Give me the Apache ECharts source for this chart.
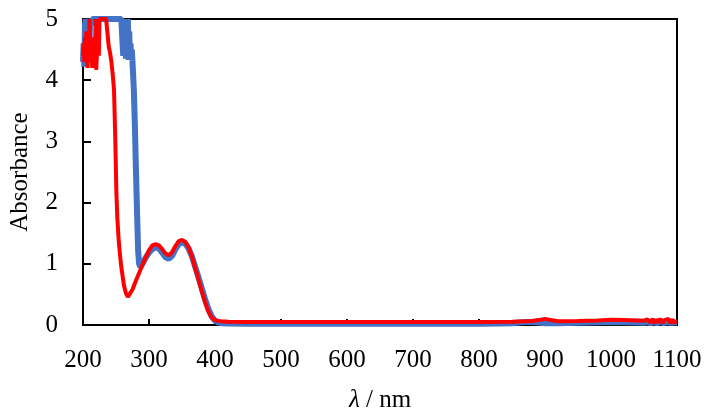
<!DOCTYPE html>
<html><head><meta charset="utf-8">
<script src="https://cdn.jsdelivr.net/npm/echarts@6/dist/echarts.min.js"></script>
<style>html,body{margin:0;padding:0;background:#fff}#c{width:707px;height:420px}</style>
</head><body><div id="c"></div>
<script>
// Blue spectrum
const wlBlue = [200,201,202,203,204,205,206,207,208,209,210,211,212,213,214,216,218,220,230,240,250,258,260,261,262,263,264,265,266,267,268,269,270,271,272,273,274,275,276,277,278.5,281,283.5,285,287,290,295,300,305,310,315,320,325,330,335,340,345,350,355,360,365,370,375,380,385,390,395,400,405,410,420,450,500,550,600,650,700,750,800,830,850,860,870,880,890,900,920,950,980,1000,1020,1040,1050,1055,1060,1065,1070,1075,1080,1085,1090,1095,1100];
const absBlue = [4.3,4.6,4.22,4.9,5,4.5,5,4.8,5,5,4.7,5,5,4.9,5,5,5,5,5,5,5,5,5,4.4,5,4.5,5,4.35,4.9,4.4,5,4.33,4.8,4.4,4.6,4.33,4.5,4.3,4.3,3.85,3.3,2.2,1.22,1.0,0.95,1.0,1.1,1.18,1.24,1.27,1.25,1.18,1.11,1.08,1.13,1.24,1.32,1.35,1.33,1.25,1.12,0.95,0.78,0.6,0.42,0.26,0.14,0.07,0.04,0.03,0.025,0.02,0.02,0.02,0.02,0.02,0.02,0.02,0.02,0.025,0.03,0.04,0.05,0.05,0.04,0.03,0.03,0.035,0.045,0.05,0.045,0.04,0.035,0.05,0.03,0.05,0.03,0.055,0.03,0.05,0.035,0.04,0.04];
// Red spectrum
const wlRed = [200,201,202,203,204,205,206,207,208,209,210,211,212,213,214,215,216,217,218,219,220,221,222,223,224,225,230,235,238,239,240,241,243,245,247,249,250.5,252,254,256,258,260,262,265,268,270,275,280,285,290,295,300,305,310,315,320,325,330,335,340,345,350,355,360,365,370,375,380,385,390,395,400,405,410,420,450,500,550,600,650,700,750,800,850,870,880,890,900,910,920,950,980,1000,1020,1040,1050,1055,1060,1063,1066,1069,1072,1075,1078,1081,1084,1087,1090,1093,1096,1100];
const absRed = [4.4,4.6,4.3,4.7,4.4,4.8,4.5,4.2,4.6,4.4,5,4.6,4.3,4.5,4.2,4.7,4.5,4.6,4.3,5,4.17,4.4,4.8,4.5,4.4,5,5,5,5,4.55,4.5,4.45,4.3,4.1,3.84,3.0,2.2,1.75,1.4,1.15,0.95,0.8,0.65,0.52,0.46,0.48,0.58,0.72,0.85,0.98,1.1,1.22,1.3,1.32,1.3,1.24,1.17,1.14,1.19,1.29,1.37,1.39,1.36,1.27,1.12,0.93,0.74,0.55,0.37,0.22,0.12,0.08,0.065,0.06,0.055,0.05,0.05,0.05,0.05,0.05,0.05,0.05,0.05,0.055,0.06,0.065,0.08,0.1,0.08,0.06,0.065,0.075,0.085,0.08,0.075,0.07,0.09,0.04,0.1,0.03,0.09,0.05,0.1,0.03,0.08,0.05,0.1,0.03,0.09,0.04,0.06];
const xTicks = {min:200, max:1100, interval:100};
const yTicks = {min:0, max:5, interval:1};

const pairs = (xs, ys) => xs.map((x,i)=>[x, ys[i]]);
const FONT = 'Liberation Serif';
const FS = 25;
const chart = echarts.init(document.getElementById('c'), null, {renderer:'canvas'});
chart.setOption({
  animation:false,
  backgroundColor:'#fff',
  grid:{left:77, right:30, top:19, bottom:95, show:true, borderColor:'#000', borderWidth:2, backgroundColor:'transparent'},
  xAxis:{type:'value', min:xTicks.min, max:xTicks.max, interval:xTicks.interval,
    axisLine:{show:true, onZero:false, lineStyle:{color:'#000', width:2}},
    axisTick:{show:true, inside:true, length:6, lineStyle:{color:'#000', width:2}},
    splitLine:{show:false},
    axisLabel:{color:'#000', fontFamily:FONT, fontSize:FS, margin:23, formatter:(v)=>String(v)},
    name:'{i|λ} / nm', nameLocation:'middle', nameGap:63,
    nameTextStyle:{color:'#000', fontFamily:FONT, fontSize:FS,
      rich:{i:{fontStyle:'italic', fontFamily:FONT, fontSize:FS, color:'#000'}}}
  },
  yAxis:{type:'value', min:yTicks.min, max:yTicks.max, interval:yTicks.interval,
    axisLine:{show:true, lineStyle:{color:'#000', width:2}},
    axisTick:{show:true, inside:true, length:8, lineStyle:{color:'#000', width:2}},
    splitLine:{show:false},
    axisLabel:{color:'#000', fontFamily:FONT, fontSize:FS, margin:25},
    name:'Absorbance', nameLocation:'middle', nameGap:50, nameRotate:90,
    nameTextStyle:{color:'#000', fontFamily:FONT, fontSize:FS}
  },
  series:[
    {type:'line', data:pairs(wlBlue, absBlue), showSymbol:false, smooth:false,
      lineStyle:{color:'#4472C4', width:6}, itemStyle:{color:'#4472C4'}, clip:true, z:2},
    {type:'line', data:pairs(wlRed, absRed), showSymbol:false, smooth:false,
      lineStyle:{color:'#FF0000', width:4}, itemStyle:{color:'#FF0000'}, clip:true, z:3}
  ]
});
</script></body></html>
